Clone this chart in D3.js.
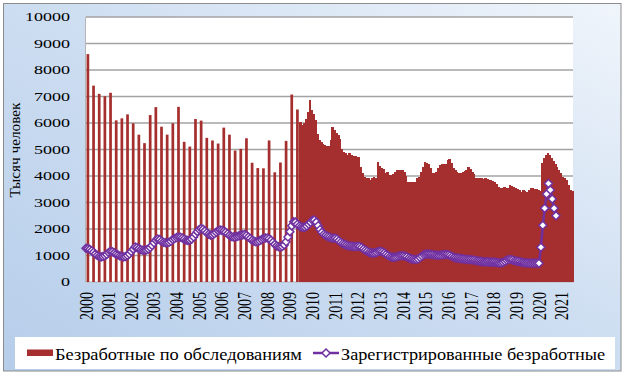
<!doctype html>
<html>
<head>
<meta charset="utf-8">
<style>
body{
  margin:0;
  background-color:#ffffff;
}
</style>
<script src="https://d3js.org/d3.v7.min.js"></script>
</head>
<body>
<svg width="626" height="378"></svg>
<script>
var years = [2000,2001,2002,2003,2004,2005,2006,2007,2008,2009,2010,
             2011,2012,2013,2014,2015,2016,2017,2018,2019,2020,2021];
var yTicks = [0,1000,2000,3000,4000,5000,6000,7000,8000,9000,10000];

// survey unemployed, quarterly (Feb, May, Aug, Nov) 2000 .. May 2009
var surveyQuarterly = [8600,7410,7100,7010, 7140,6100,6175,6325, 5990,5560,5240,6300,
                       6600,5860,5560,5990, 6610,5290,5110,6150, 6090,5440,5340,5225,
                       5825,5560,4960,5025, 5425,4500,4300,4290, 5340,4140,4510,5325,
                       7075,6510];
var quarterMonths = [1,4,7,10]; // month offsets inside a year

// survey unemployed, monthly from Jun 2009
var surveyMonthly = [6050,5910,6010,6160,6410,6850,6475,
                     6350,6100,5600,5375,5290,5210,5160,5140,5140,5375,5850,5725,
                     5640,5540,5390,5010,4910,4850,4790,4850,4810,4760,4750,4725,
                     4710,4350,4100,3975,3940,3940,3850,3910,3975,3910,4510,4390,
                     4290,4260,4125,4160,4040,4040,4060,4140,4210,4225,4225,4210,
                     4160,4000,3790,3760,3760,3760,3790,3910,3975,4140,4350,4510,
                     4500,4440,4310,4125,4125,4140,4310,4410,4440,4440,4460,4600,
                     4625,4475,4310,4225,4160,4100,4100,4160,4190,4225,4340,4260,
                     4140,4060,3940,3910,3940,3910,3890,3910,3890,3840,3850,3810,
                     3760,3690,3600,3540,3560,3600,3540,3560,3660,3640,3600,3540,
                     3510,3460,3410,3460,3440,3410,3490,3540,3540,3510,3510,3460,
                     3450,4475,4690,4790,4850,4790,4690,4560,4460,4340,4210,4100,
                     3975,3910,3850,3660,3475,3440];
var monthlyStart = 113;

// registered unemployed, monthly from Jan 2000
var registered = [1270,1260,1230,1180,1120,1060,1000,960,950,960,990,1040,
                  1110,1150,1140,1100,1060,1020,980,960,950,960,1000,1060,
                  1150,1240,1320,1300,1260,1220,1200,1200,1210,1240,1300,1380,
                  1480,1580,1620,1600,1540,1500,1480,1480,1500,1540,1600,1640,
                  1680,1700,1690,1660,1620,1580,1570,1580,1620,1700,1800,1900,
                  1980,2020,1990,1930,1860,1800,1770,1780,1820,1880,1930,1960,
                  1950,1920,1880,1820,1760,1720,1700,1700,1720,1740,1770,1780,
                  1790,1760,1700,1640,1580,1540,1520,1530,1560,1600,1640,1660,
                  1660,1630,1580,1500,1420,1360,1330,1320,1340,1400,1520,1700,
                  1900,2120,2270,2260,2180,2110,2080,2060,2070,2110,2180,2250,
                  2330,2340,2260,2120,1980,1880,1800,1760,1720,1690,1660,1650,
                  1650,1620,1560,1500,1450,1420,1390,1370,1360,1350,1340,1340,
                  1350,1340,1300,1250,1200,1160,1120,1100,1090,1100,1120,1150,
                  1160,1140,1100,1050,1000,960,940,930,940,960,980,990,
                  990,980,950,910,880,860,850,850,870,920,980,1030,
                  1050,1060,1050,1040,1030,1020,1010,1010,1020,1030,1040,1040,
                  1030,1000,960,930,910,900,890,880,870,860,850,850,
                  840,830,820,800,790,780,770,760,760,760,750,750,
                  750,740,730,720,720,740,780,820,850,850,830,800,
                  790,780,760,740,730,720,720,710,710,710,710,710,
                  705,1310,2140,2780,3320,3720,3470,3130,2780,2500];

var barColor = "#a52e2e",
    lineColor = "#7030a0",
    serif = "Liberation Serif";

var svg = d3.select("svg");

var x = d3.scaleLinear().domain([0, 258]).range([86, 573]);
var y = d3.scaleLinear().domain([0, 10000]).range([282, 17]);

// background
var defs = svg.append("defs");
var grad = defs.append("linearGradient")
    .attr("id", "bg")
    .attr("x1", "0").attr("y1", "1")
    .attr("x2", "1").attr("y2", "0");
grad.append("stop").attr("offset", "0%").attr("stop-color", "#b6cdea");
grad.append("stop").attr("offset", "55%").attr("stop-color", "#cfdff2");
grad.append("stop").attr("offset", "100%").attr("stop-color", "#f0f5fb");

svg.append("rect")
    .attr("x", 3.5).attr("y", 3.5)
    .attr("width", 617.5).attr("height", 367.5)
    .style("fill", "url(#bg)")
    .style("stroke", "#8c8c8c")
    .style("stroke-width", 1);

svg.append("rect")
    .attr("x", x(0)).attr("y", y(10000))
    .attr("width", x(258) - x(0)).attr("height", y(0) - y(10000))
    .style("fill", "#ffffff");

// grid
svg.append("g")
    .selectAll("line")
    .data(yTicks)
    .enter()
    .append("line")
    .attr("x1", x(0)).attr("x2", x(258))
    .attr("y1", function(d){ return y(d); })
    .attr("y2", function(d){ return y(d); })
    .style("stroke", function(d){ return d == 0 ? "#b5b5b5" : "#a3a3a3"; })
    .style("stroke-width", function(d){ return d == 0 ? 1 : 1.5; });

svg.append("line")
    .attr("x1", x(0) - 0.5).attr("x2", x(0) - 0.5)
    .attr("y1", y(10000)).attr("y2", y(0))
    .style("stroke", "#b5b5b5");

// bars
var bars = svg.append("g").style("fill", barColor);

bars.selectAll(".q")
    .data(surveyQuarterly)
    .enter()
    .append("rect")
    .attr("class", "q")
    .attr("x", function(d, i){ return x(Math.floor(i / 4) * 12 + quarterMonths[i % 4]) - 1.35; })
    .attr("width", 2.7)
    .attr("y", function(d){ return y(d); })
    .attr("height", function(d){ return y(0) - y(d); });

bars.selectAll(".m")
    .data(surveyMonthly)
    .enter()
    .append("rect")
    .attr("class", "m")
    .attr("shape-rendering", "crispEdges")
    .attr("x", function(d, i){ return x(monthlyStart + i); })
    .attr("width", function(d, i){ return x(monthlyStart + i + 1) - x(monthlyStart + i) + 0.6; })
    .attr("y", function(d){ return y(d); })
    .attr("height", function(d){ return y(0) - y(d); });

// registered line
var line = d3.line()
    .x(function(d, i){ return x(i); })
    .y(function(d){ return y(d); });

svg.append("path")
    .datum(registered)
    .attr("d", line)
    .style("fill", "none")
    .style("stroke", lineColor)
    .style("stroke-width", 2.5);

var diamond = "M0,-4L4,0L0,4L-4,0Z";

svg.append("g")
    .selectAll("path")
    .data(registered)
    .enter()
    .append("path")
    .attr("d", diamond)
    .attr("transform", function(d, i){ return "translate(" + x(i) + "," + y(d) + ")"; })
    .style("fill", "#ffffff")
    .style("stroke", lineColor)
    .style("stroke-width", 1.5);

// axes
var yAxis = svg.append("g")
    .attr("transform", "translate(" + x(0) + ",0)")
    .call(d3.axisLeft(y).tickValues(yTicks).tickFormat(d3.format("d")).tickSize(0).tickPadding(16));
yAxis.select(".domain").remove();
yAxis.attr("font-family", serif);
yAxis.selectAll("text")
    .style("font-family", serif)
    .style("font-size", "12px")
    .style("fill", "#000")
    .attr("textLength", function(d){ return String(d).length * 9; })
    .attr("lengthAdjust", "spacingAndGlyphs");

var xAxis = svg.append("g")
    .attr("transform", "translate(0," + y(0) + ")")
    .call(d3.axisBottom(x)
        .tickValues(years.map(function(d, i){ return i * 12; }))
        .tickFormat(function(d, i){ return years[i]; })
        .tickSize(0));
xAxis.select(".domain").remove();
xAxis.attr("font-family", serif);
xAxis.selectAll("text")
    .style("font-family", serif)
    .style("font-size", "18px")
    .style("fill", "#000")
    .attr("transform", "rotate(-90)")
    .attr("x", -10)
    .attr("y", 6)
    .attr("dy", 0)
    .attr("text-anchor", "end")
    .attr("textLength", 28)
    .attr("lengthAdjust", "spacingAndGlyphs");

svg.append("text")
    .attr("transform", "translate(20,150) rotate(-90)")
    .attr("text-anchor", "middle")
    .style("font-family", serif)
    .style("font-size", "14px")
    .attr("textLength", 95)
    .attr("lengthAdjust", "spacingAndGlyphs")
    .text("Тысяч человек");

// legend
svg.append("rect")
    .attr("x", 15).attr("y", 337)
    .attr("width", 600).attr("height", 32)
    .style("fill", "#ffffff");

svg.append("rect")
    .attr("x", 27).attr("y", 349.5)
    .attr("width", 26).attr("height", 6.5)
    .style("fill", barColor);

svg.append("text")
    .attr("x", 55).attr("y", 360)
    .style("font-family", serif)
    .style("font-size", "17px")
    .attr("textLength", 247)
    .attr("lengthAdjust", "spacingAndGlyphs")
    .text("Безработные по обследованиям");

svg.append("line")
    .attr("x1", 313).attr("x2", 339)
    .attr("y1", 353).attr("y2", 353)
    .style("stroke", lineColor)
    .style("stroke-width", 2.5);

svg.append("path")
    .attr("d", diamond)
    .attr("transform", "translate(326,353)")
    .style("fill", "#ffffff")
    .style("stroke", lineColor)
    .style("stroke-width", 1.5);

svg.append("text")
    .attr("x", 341).attr("y", 360)
    .style("font-family", serif)
    .style("font-size", "17px")
    .attr("textLength", 264)
    .attr("lengthAdjust", "spacingAndGlyphs")
    .text("Зарегистрированные безработные");
</script>
</body>
</html>
